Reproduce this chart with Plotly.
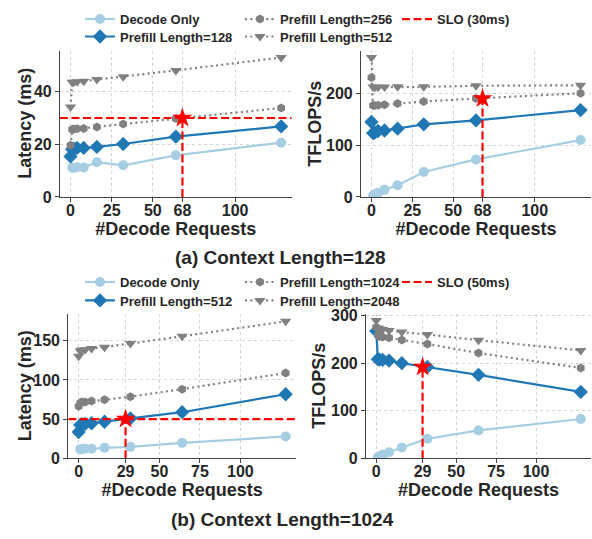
import plotly.graph_objects as go

# ---------------- data ----------------
decode_x = [1, 2, 4, 8, 16, 32, 64, 128]
prefill_x = [0, 1, 2, 4, 8, 16, 32, 64, 128]

# (a) Context Length = 128
a_dec_lat = [11.2, 11.0, 11.3, 11.2, 13.2, 12.0, 15.8, 20.6]
a_p128_lat = [15.4, 18.1, 18.3, 18.6, 18.6, 19.0, 20.1, 22.9, 26.8]
a_p256_lat = [19.6, 25.6, 25.8, 25.9, 26.0, 26.6, 27.7, 29.8, 33.8]
a_p512_lat = [34.2, 43.6, 43.6, 43.8, 44.0, 44.6, 45.7, 48.1, 53.0]

a_dec_tf = [2.5, 4.5, 7.5, 14.0, 22.5, 48.3, 72.5, 110.0]
a_p128_tf = [145.0, 123.5, 124.5, 127.5, 128.5, 132.0, 140.4, 148.0, 168.0]
a_p256_tf = [231.0, 177.0, 177.0, 177.5, 178.5, 180.5, 184.5, 190.5, 200.5]
a_p512_tf = [270.0, 212.5, 212.0, 212.0, 212.5, 213.0, 213.0, 215.0, 216.0]

a_slo = 30
a_slo_x = 68
a_star_tf = 190.5

# (b) Context Length = 1024
b_dec_lat = [11.6, 11.5, 12.0, 12.0, 13.3, 14.5, 19.6, 27.8]
b_p512_lat = [33.5, 42.5, 43.5, 43.8, 44.7, 46.6, 51.0, 58.8, 81.8]
b_p1024_lat = [66.5, 70.5, 71.7, 72.0, 73.2, 74.6, 78.7, 88.3, 109.0]
b_p2048_lat = [130.2, 137.2, 138.2, 138.8, 140.2, 142.0, 146.6, 156.0, 175.0]

b_dec_tf = [2.0, 4.0, 7.0, 12.5, 22.5, 40.8, 58.5, 82.5]
b_p512_tf = [267.6, 208.5, 207.5, 207.0, 205.5, 200.0, 192.0, 175.5, 139.5]
b_p1024_tf = [275.5, 259.0, 256.5, 255.0, 253.5, 249.0, 240.5, 221.5, 190.0]
b_p2048_tf = [290.0, 274.0, 272.5, 271.0, 269.0, 265.5, 260.5, 248.5, 227.0]

b_slo = 50
b_slo_x = 29
b_star_tf = 192

a_xticks = [0, 25, 50, 68, 100]
b_xticks = [0, 29, 50, 75, 100]
a_lat_ticks = [0, 20, 40]
a_tf_ticks = [0, 100, 200]
b_lat_ticks = [0, 50, 100, 150]
b_tf_ticks = [0, 100, 200, 300]

# ---------------- style ----------------
W, H = 592, 539
FONT = "Liberation Sans, Arial, sans-serif"
TXT = "#262626"
LIGHT = "#a6cee3"
DARK = "#1f78b4"
GRAY = "#808080"
RED = "#ff0000"

fig = go.Figure()


def px_x(a, b):
    return [a / W, b / W]


def px_y(top, bottom):
    return [1 - bottom / H, 1 - top / H]


XR = [-6.4, 134.4]
axes = {
    1: dict(xd=px_x(60, 291.7), yd=px_y(45, 195.7), yr=[0, 55.6],
            xt=a_xticks, yt=a_lat_ticks),
    2: dict(xd=px_x(361, 591), yd=px_y(45, 195.7), yr=[0, 283],
            xt=a_xticks, yt=a_tf_ticks),
    3: dict(xd=px_x(68.3, 296), yd=px_y(316.7, 465), yr=[0, 184],
            xt=b_xticks, yt=b_lat_ticks),
    4: dict(xd=px_x(366, 591), yd=px_y(316.7, 465), yr=[0, 303],
            xt=b_xticks, yt=b_tf_ticks),
}

for i, a in axes.items():
    sfx = "" if i == 1 else str(i)
    common = dict(
        showline=True, linecolor="#404040", linewidth=1.2, mirror=False,
        ticks="outside", ticklen=4, tickwidth=1.2, tickcolor="#404040",
        showgrid=True, gridcolor="#d4d4d4", griddash="dot", gridwidth=1,
        zeroline=False,
        tickfont=dict(family=FONT, size=16, color=TXT, weight="bold"),
    )
    fig.layout["xaxis" + sfx] = dict(
        common, domain=a["xd"], range=XR, tickvals=a["xt"],
        anchor="y" + sfx, ticklabelstandoff=-5,
        title=dict(text="#Decode Requests", standoff=1,
                   font=dict(family=FONT, size=18, color=TXT, weight="bold")),
    )
    fig.layout["yaxis" + sfx] = dict(
        common, domain=a["yd"], range=a["yr"], tickvals=a["yt"],
        anchor="x" + sfx,
    )


def add_series(xa, ya, x, y, name, color, dash, symbol, msize, legend, show):
    fig.add_trace(go.Scatter(
        x=x, y=y, mode="lines+markers", name=name,
        line=dict(color=color, width=2.2, dash=dash),
        marker=dict(symbol=symbol, size=msize, color=color),
        xaxis=xa, yaxis=ya, legend=legend, showlegend=show,
    ))


def add_slo(xa, ya, slo_x, slo_y, horiz, name, legend, show):
    if horiz:
        fig.add_trace(go.Scatter(
            x=XR, y=[slo_y, slo_y], mode="lines", name=name,
            line=dict(color=RED, width=2.2, dash="8px,3.5px"),
            xaxis=xa, yaxis=ya, legend=legend, showlegend=show,
        ))
    fig.add_trace(go.Scatter(
        x=[slo_x, slo_x], y=[0, slo_y], mode="lines", name=name,
        line=dict(color=RED, width=2.2, dash="8px,3.5px"),
        xaxis=xa, yaxis=ya, showlegend=False,
    ))
    fig.add_trace(go.Scatter(
        x=[slo_x], y=[slo_y], mode="markers", name=name,
        marker=dict(symbol="star", size=15, color=RED),
        xaxis=xa, yaxis=ya, showlegend=False,
    ))


DOT = "2px,3.3px"

# ----- panel (a) latency -----
add_series("x", "y", decode_x, a_dec_lat, "Decode Only", LIGHT, "solid", "circle", 10, "legend", True)
add_series("x", "y", prefill_x, a_p128_lat, "Prefill Length=128", DARK, "solid", "diamond", 11, "legend4", True)
add_series("x", "y", prefill_x, a_p256_lat, "Prefill Length=256", GRAY, DOT, "hexagon", 9, "legend2", True)
add_series("x", "y", prefill_x, a_p512_lat, "Prefill Length=512", GRAY, DOT, "triangle-down", 10, "legend5", True)
add_slo("x", "y", a_slo_x, a_slo, True, "SLO (30ms)", "legend3", True)

# ----- panel (a) throughput -----
add_series("x2", "y2", decode_x, a_dec_tf, "Decode Only", LIGHT, "solid", "circle", 10, "legend", False)
add_series("x2", "y2", prefill_x, a_p128_tf, "Prefill Length=128", DARK, "solid", "diamond", 11, "legend4", False)
add_series("x2", "y2", prefill_x, a_p256_tf, "Prefill Length=256", GRAY, DOT, "hexagon", 9, "legend2", False)
add_series("x2", "y2", prefill_x, a_p512_tf, "Prefill Length=512", GRAY, DOT, "triangle-down", 10, "legend5", False)
add_slo("x2", "y2", a_slo_x, a_star_tf, False, "SLO (30ms)", "legend3", False)

# ----- panel (b) latency -----
add_series("x3", "y3", decode_x, b_dec_lat, "Decode Only", LIGHT, "solid", "circle", 10, "legend6", True)
add_series("x3", "y3", prefill_x, b_p512_lat, "Prefill Length=512", DARK, "solid", "diamond", 11, "legend9", True)
add_series("x3", "y3", prefill_x, b_p1024_lat, "Prefill Length=1024", GRAY, DOT, "hexagon", 9, "legend7", True)
add_series("x3", "y3", prefill_x, b_p2048_lat, "Prefill Length=2048", GRAY, DOT, "triangle-down", 10, "legend10", True)
add_slo("x3", "y3", b_slo_x, b_slo, True, "SLO (50ms)", "legend8", True)

# ----- panel (b) throughput -----
add_series("x4", "y4", decode_x, b_dec_tf, "Decode Only", LIGHT, "solid", "circle", 10, "legend6", False)
add_series("x4", "y4", prefill_x, b_p512_tf, "Prefill Length=512", DARK, "solid", "diamond", 11, "legend9", False)
add_series("x4", "y4", prefill_x, b_p1024_tf, "Prefill Length=1024", GRAY, DOT, "hexagon", 9, "legend7", False)
add_series("x4", "y4", prefill_x, b_p2048_tf, "Prefill Length=2048", GRAY, DOT, "triangle-down", 10, "legend10", False)
add_slo("x4", "y4", b_slo_x, b_star_tf, False, "SLO (50ms)", "legend8", False)

leg_font = dict(family=FONT, size=13, color=TXT, weight="bold")


def legend_at(xpx, ypx):
    return dict(x=xpx / W, y=1 - ypx / H, xanchor="left", yanchor="top",
                bgcolor="rgba(0,0,0,0)", borderwidth=0, font=leg_font,
                tracegroupgap=0, itemwidth=30, orientation="v")


def ann(text, xpx, ypx, size, angle=0):
    return dict(text=text, x=xpx / W, y=1 - ypx / H, xref="paper", yref="paper",
                showarrow=False, xanchor="center", yanchor="middle", textangle=angle,
                font=dict(family=FONT, size=size, color=TXT, weight="bold"))


annotations = [
    ann("(a) Context Length=128", 280, 258, 19),
    ann("(b) Context Length=1024", 282.5, 528, 19),
    ann("Latency (ms)", 25, 120.3, 18, -90),
    ann("TFLOPS/s", 315, 120.3, 18, -90),
    ann("Latency (ms)", 25, 390.8, 18, -90),
    ann("TFLOPS/s", 319.5, 390.8, 18, -90),
]

fig.update_layout(
    width=W, height=H,
    margin=dict(l=0, r=0, t=0, b=0),
    paper_bgcolor="white", plot_bgcolor="white",
    font=dict(family=FONT, color=TXT),
    legend=legend_at(80, -3),
    legend2=legend_at(240, -3),
    legend3=legend_at(397, -3),
    legend4=legend_at(80, 15),
    legend5=legend_at(240, 15),
    legend6=legend_at(80, 268),
    legend7=legend_at(240, 268),
    legend8=legend_at(397, 268),
    legend9=legend_at(80, 287),
    legend10=legend_at(240, 287),
    annotations=annotations,
)

fig.write_html("out.html", config={"displayModeBar": False},
               post_script="document.body.style.margin='0';")
